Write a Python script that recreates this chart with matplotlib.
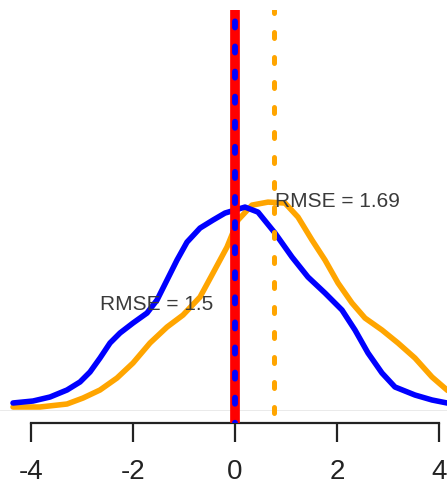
import matplotlib
matplotlib.use("Agg")
import matplotlib.pyplot as plt

plt.rcParams['font.family'] = ['Liberation Sans', 'DejaVu Sans']

# 密度曲线
blue_x = [-4.353, -3.961, -3.627, -3.294, -3.039, -2.843, -2.647, -2.451, -2.255, -2.000,
          -1.725, -1.529, -1.333, -1.137, -0.941, -0.686, -0.431, -0.196, 0.196, 0.451,
          0.784, 1.118, 1.431, 1.765, 2.098, 2.353, 2.608, 2.882, 3.137, 3.529,
          3.863, 4.157, 4.30]
blue_y = [0.0096, 0.0123, 0.0178, 0.0274, 0.0384, 0.0521, 0.0712, 0.0918, 0.1055, 0.1192,
          0.1329, 0.1507, 0.1781, 0.2055, 0.2301, 0.2493, 0.2603, 0.2699, 0.2781, 0.2712,
          0.2425, 0.2096, 0.1822, 0.1603, 0.1370, 0.1096, 0.0781, 0.0507, 0.0315, 0.0205,
          0.0137, 0.0096, 0.0085]

orange_x = [-4.353, -3.824, -3.294, -2.980, -2.647, -2.314, -2.000, -1.667, -1.333, -1.020,
            -0.686, -0.431, -0.157, 0.059, 0.333, 0.647, 0.980, 1.235, 1.510, 1.765,
            2.020, 2.294, 2.549, 2.882, 3.196, 3.529, 3.863, 4.157, 4.30]
orange_y = [0.0041, 0.0041, 0.0082, 0.0164, 0.0274, 0.0438, 0.0644, 0.0918, 0.1137, 0.1301,
            0.1548, 0.1877, 0.2233, 0.2603, 0.2808, 0.2849, 0.2836, 0.2644, 0.2329, 0.2055,
            0.1740, 0.1466, 0.1260, 0.1096, 0.0918, 0.0712, 0.0452, 0.0274, 0.0210]

true_val = 0.0
orange_mean = 0.76
labels = ["RMSE = 1.5", "RMSE = 1.69"]
label_pos = [(-1.53, 0.144), (2.01, 0.286)]

xticks = [-4, -2, 0, 2, 4]

fig = plt.figure(figsize=(4.47, 4.95), dpi=100)
ax = fig.add_axes([0, 0.1455, 1, 0.834])

ax.axhline(0, color='#e6e6e6', lw=0.6, zorder=1)
ax.plot(orange_x, orange_y, color='orange', lw=4, zorder=2,
        solid_capstyle='round', solid_joinstyle='round')
ax.plot(blue_x, blue_y, color='blue', lw=4, zorder=3,
        solid_capstyle='round', solid_joinstyle='round')

# 竖线：真值（红色实线 + 蓝色点线）与橙色均值
ax.axvline(true_val, color='red', lw=7, zorder=4)
ax.axvline(true_val, color='blue', lw=4.2, ls=(1.0, (1.05, 3.25)),
           dash_capstyle='round', zorder=5)
ax.axvline(orange_mean, color='orange', lw=3.6, ls=(3.0, (1.2, 3.8)),
           dash_capstyle='round', zorder=5)

for (tx, ty), s in zip(label_pos, labels):
    ax.text(tx, ty, s, fontsize=15, color='#3a3a3a', ha='center', va='center', zorder=6)

ax.set_xlim(-4.608, 4.157)
ax.set_ylim(-0.0178, 0.548)

for side in ['top', 'right', 'left']:
    ax.spines[side].set_visible(False)
ax.spines['bottom'].set_bounds(-4, 4)
ax.spines['bottom'].set_linewidth(1.6)
ax.spines['bottom'].set_color('#222222')
ax.set_xticks(xticks)
ax.set_xticklabels([str(t) for t in xticks])
ax.tick_params(axis='x', length=14, width=1.6, color='#222222', pad=12,
               labelsize=20, labelcolor='#222222')
ax.set_yticks([])

fig.savefig('out.png', dpi=100)
